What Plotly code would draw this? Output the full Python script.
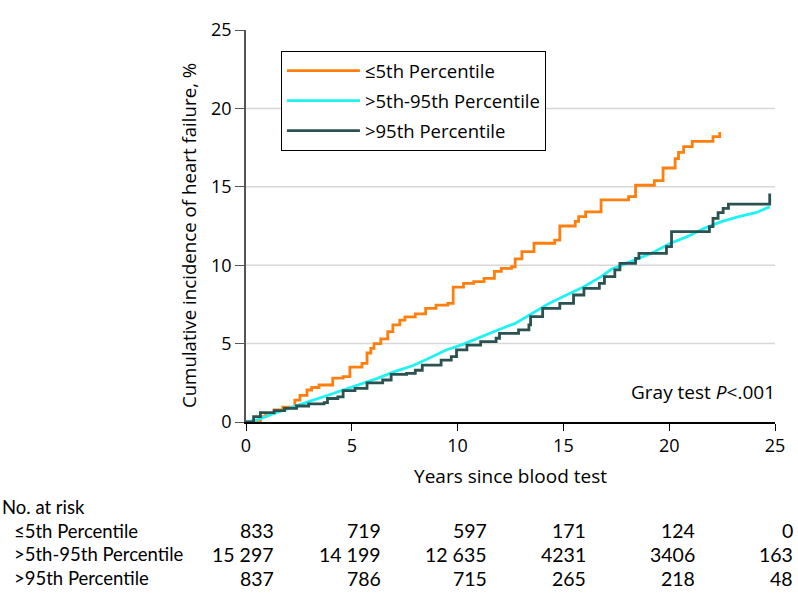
import plotly.graph_objects as go

# ---------------- data ----------------
low_years = [0, 0.68, 0.93, 1.33, 1.74, 2.31, 2.55, 2.88, 3.1, 3.45, 4.10, 4.59, 4.91, 5.48, 5.72, 5.9, 6.05,
             6.37, 6.70, 6.94, 7.27, 7.51, 8.0, 8.49, 8.98, 9.54, 9.79, 10.28, 10.76, 11.25,
             11.74, 12.07, 12.55, 12.72, 13.04, 13.61, 14.59, 14.83, 15.56, 15.72, 16.05,
             16.78, 18.08, 18.41, 19.3, 19.71, 20.28, 20.44, 20.68, 21.09, 22.07, 22.39]
low_cif = [0, 0.34, 0.55, 0.77, 0.94, 1.4, 1.7, 2.04, 2.2, 2.36, 2.8, 2.9, 3.5, 3.74, 4.4, 4.7, 5.0,
           5.3, 5.76, 6.2, 6.5, 6.7, 6.9, 7.25, 7.46, 7.57, 8.6, 8.84, 8.95, 9.16,
           9.6, 9.8, 9.9, 10.4, 10.86, 11.4, 11.6, 12.5, 12.8, 13.1, 13.4,
           14.16, 14.37, 15.1, 15.4, 16.2, 16.8, 17.2, 17.56, 17.9, 18.2, 18.5]

mid_years = [0, 0.52, 1.33, 2.15, 2.96, 3.77, 4.59, 5.4, 6.21, 7.02, 7.84, 8.65, 9.46, 10.28,
             11.09, 11.9, 12.72, 13.53, 14.34, 15.15, 15.97, 16.78, 17.27, 17.59, 18.41,
             19.22, 20.03, 20.85, 21.66, 22.47, 23.28, 24.1, 24.59, 24.75]
mid_cif = [0, 0.13, 0.55, 0.94, 1.3, 1.66, 2.04, 2.42, 2.78, 3.21, 3.57, 4.06, 4.59, 4.97,
           5.44, 5.87, 6.29, 6.93, 7.57, 8.1, 8.63, 9.27, 9.74, 9.91, 10.37,
           10.8, 11.39, 11.82, 12.35, 12.78, 13.1, 13.35, 13.63, 13.72]

high_years = [0, 0.36, 0.68, 1.33, 1.82, 2.39, 2.96, 3.69, 3.85, 4.34, 4.59, 5.15, 5.72, 6.46,
              6.86, 7.59, 8.0, 8.33, 9.22, 9.7, 9.95, 10.44, 11.09, 11.82, 11.98, 12.88,
              13.37, 13.45, 14.02, 14.83, 15.48, 15.97, 16.7, 16.94, 17.43, 17.67, 18.41,
              18.57, 19.87, 20.11, 21.9, 22.07, 22.31, 22.55, 22.8, 24.75]
high_cif = [0, 0.34, 0.6, 0.72, 0.87, 1.02, 1.15, 1.23, 1.5, 1.6, 2.0, 2.15, 2.5, 2.68,
            3.04, 3.1, 3.3, 3.63, 3.95, 4.17, 4.6, 4.9, 5.12, 5.34, 5.65, 5.87,
            6.19, 6.72, 7.25, 7.57, 8.1, 8.52, 8.84, 9.27, 9.7, 10.12, 10.44,
            10.76, 11.18, 12.14, 12.46, 12.99, 13.35, 13.63, 13.9, 14.58]

series_names = ["≤5th Percentile", ">5th-95th Percentile", ">95th Percentile"]
risk_times = [0, 5, 10, 15, 20, 25]
risk_low = ["833", "719", "597", "171", "124", "0"]
risk_mid = ["15 297", "14 199", "12 635", "4231", "3406", "163"]
risk_high = ["837", "786", "715", "265", "218", "48"]

# ---------------- styles ----------------
colors = ["#FF7F0E", "#1EF2F2", "#2B5150"]
FONT = "Open Sans"
TFONT = "Lato"
col_shift = [30, 31, 31, 25, 28, 20]   # pixel offset of right edge of risk-table numbers
row_y = [-0.277, -0.338, -0.398]        # paper y of risk-table rows

fig = go.Figure()
fig.add_trace(go.Scatter(x=low_years, y=low_cif, mode="lines", name=series_names[0],
                         line=dict(color=colors[0], width=2.8, shape="hv"), legendgroup="a"))
fig.add_trace(go.Scatter(x=mid_years, y=mid_cif, mode="lines", name=series_names[1],
                         line=dict(color=colors[1], width=2.8), legendgroup="b"))
fig.add_trace(go.Scatter(x=high_years, y=high_cif, mode="lines", name=series_names[2],
                         line=dict(color=colors[2], width=2.8, shape="hv"), legendgroup="c"))

# horizontal gridlines
for g in [5, 10, 15, 20]:
    fig.add_shape(type="line", xref="paper", yref="y", x0=0, x1=1, y0=g, y1=g,
                  line=dict(color="#D8D8D8", width=1.5), layer="below")

annotations = []
annotations.append(dict(xref="x", yref="y", x=25, y=1.9, xanchor="right", yanchor="middle",
                        xshift=2, text="Gray test <i>P</i><.001", showarrow=False,
                        font=dict(family=FONT, size=19, color="black")))
# y-axis title (placed as rotated text, centred where the reference puts it)
annotations.append(dict(xref="paper", yref="paper", x=-58 / 530, y=(422 - 236) / 392,
                        xanchor="center", yanchor="middle", textangle=-90,
                        text="Cumulative incidence of heart failure, %", showarrow=False,
                        font=dict(family=FONT, size=18.7, color="black")))
annotations.append(dict(xref="paper", yref="paper", x=-246 / 530, y=-0.216, xanchor="left",
                        yanchor="middle", text="No. at risk", showarrow=False,
                        font=dict(family=TFONT, size=18.5, color="black")))
for name, ry in zip(series_names, row_y):
    annotations.append(dict(xref="paper", yref="paper", x=-234 / 530, y=ry, xanchor="left",
                            yanchor="middle", text=name, showarrow=False,
                            font=dict(family=TFONT, size=18.5, color="black")))
for vals, ry in zip([risk_low, risk_mid, risk_high], row_y):
    for t, v, sh in zip(risk_times, vals, col_shift):
        annotations.append(dict(xref="x", yref="paper", x=t, y=ry, xanchor="right",
                                yanchor="middle", xshift=sh, text=v, showarrow=False,
                                font=dict(family=TFONT, size=19.5, color="black")))

fig.update_layout(
    width=798, height=612,
    margin=dict(l=246, r=23, t=30, b=190),
    paper_bgcolor="white", plot_bgcolor="white",
    font=dict(family=FONT, size=18, color="black"),
    showlegend=True,
    legend=dict(x=35 / 530, y=1 - 21 / 392, xanchor="left", yanchor="top",
                bordercolor="black", borderwidth=1, bgcolor="white",
                font=dict(family=FONT, size=18.5, color="black"),
                traceorder="grouped", tracegroupgap=3, itemwidth=73),
    xaxis=dict(range=[0, 25], tickvals=risk_times, ticks="outside", ticklen=7,
               tickcolor="black", showline=True, linecolor="black", linewidth=1.5,
               showgrid=False, zeroline=False,
               title=dict(text="Years since blood test", standoff=13,
                          font=dict(family=FONT, size=19)),
               tickfont=dict(family=FONT, size=18)),
    yaxis=dict(range=[0, 25], tickvals=[0, 5, 10, 15, 20, 25], ticks="outside", ticklen=9,
               tickcolor="#555555", showline=True, linecolor="#555555", linewidth=1.5,
               showgrid=False, zeroline=False,
               tickfont=dict(family=FONT, size=18)),
    annotations=annotations,
)

fig.write_html("out.html", config={"displayModeBar": False},
               post_script="document.body.style.margin='0px';")
